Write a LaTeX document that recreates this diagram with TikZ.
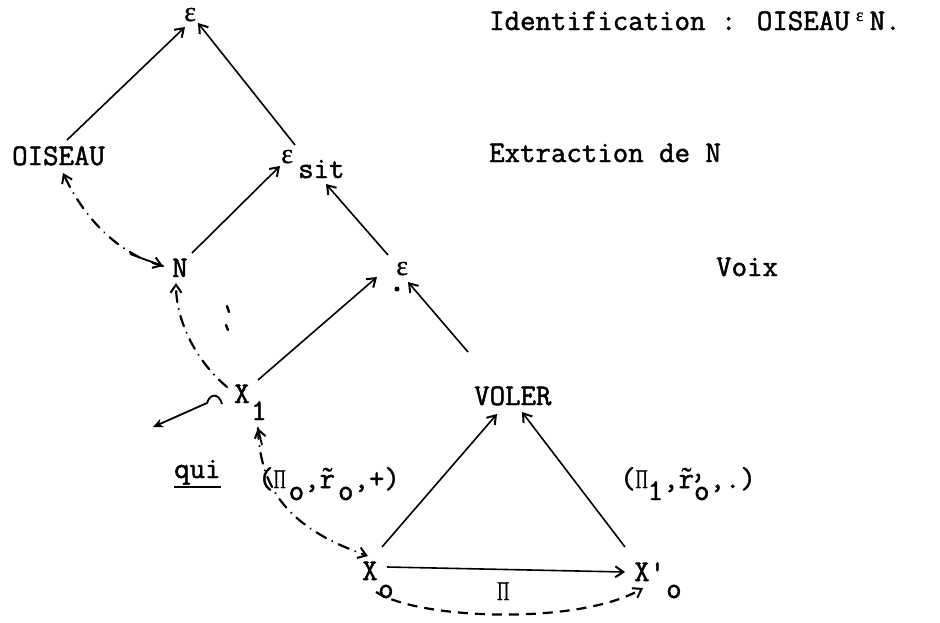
\documentclass[tikz,border=0pt]{standalone}
\usepackage{fontspec}
\usepackage{graphicx}
\newfontfamily\gk{Liberation Serif}[FakeBold=1]
\newfontfamily\tw{Latin Modern Mono}[FakeBold=1.6]
\usetikzlibrary{arrows.meta,calc}
\newcommand\eps{{\gk\fontsize{28}{30}\selectfont ε}}
\newcommand\smeps{{\gk\fontsize{18}{20}\selectfont ε}}
\newcommand\PI{\scalebox{0.62}[1]{\gk\fontsize{27}{30}\selectfont Π}}
\newcommand\lo[1]{\raisebox{-12pt}{#1}}
\newcommand\rt{\rlap{\makebox[15.75pt]{\gk ˜}}r}
\tikzset{
  lbl/.style={inner sep=0pt, anchor=base west},
  ln/.style={line width=1.6pt},
  tip/.style={-{Straight Barb[length=8pt,width=11pt,line width=2pt]}},
  arr/.style={ln, tip},
  dd/.style={line width=2.2pt, line cap=round, dash pattern=on 11pt off 7pt on 0.1pt off 7pt},
  ddash/.style={line width=2.2pt, dash pattern=on 10pt off 7pt}
}
\begin{document}
\begin{tikzpicture}[x=1pt,y=-1pt, font=\fontsize{30}{36}\selectfont\tw]
\useasboundingbox (0,0) rectangle (940,622);
% nodes
\node[lbl] (etop) at (184,21) {\eps};
\node[lbl] (oiseau) at (12,165) {OISEAU};
\node[lbl] (esit) at (281,163) {\eps};
\node[lbl] (sit) at (298,178) {sit};
\node[lbl] (N) at (172,277) {N};
\node[lbl] (emid) at (396,275) {\eps};
\node[lbl] (X1) at (234,403) {X};
\node[lbl] (X1s) at (251,420) {1};
\node[lbl] (voler) at (474,405) {VOLER};
\node[lbl] (Xo) at (362,580) {X};
\node[lbl] (Xos) at (378,598) {o};
\node[lbl] (Xp) at (634,581) {X'};
\node[lbl] (Xps) at (666,598) {o};
\node[lbl] (pi) at (497,600) {\PI};
\node[lbl] (lab1) at (258,488) {(\PI\kern3pt\lo{o},\rt\kern3pt\lo{o},+)};
\node[lbl] (lab2) at (620,488) {(\PI\lo{1},\rt\rlap{\kern-4pt\raisebox{-4pt}{’}}\lo{o},.)};
\node[lbl] (qui) at (174,478) {qui};
\node[lbl] (ident) at (489,30) {Identification : OISEAU\makebox[20pt]{\raisebox{9pt}{\smeps}}N.};
\node[lbl] (extr) at (489,162) {Extraction de N};
\node[lbl] (voix) at (716,276) {Voix};
% underline of qui
\draw[line width=1.8pt] ($(qui.base west)+(0,9)$) -- ($(qui.base east)+(0,9)$);
% solid connectors
\draw[arr] ($(oiseau.base west)+(55,-25)$) -- ($(etop.base west)+(1,6)$);
\draw[arr] ($(esit.base west)+(14,-18)$) -- ($(etop.base west)+(14,2)$);
\draw[arr] ($(N.base west)+(20,-24)$) -- ($(esit.base west)+(-1,3)$);
\draw[arr] ($(emid.base west)+(-8,-20)$) -- ($(sit.base west)+(28,6)$);
\draw[arr] ($(X1.base west)+(24,-23)$) -- ($(emid.base west)+(-19,2)$);
\draw[arr] ($(voler.base west)+(-6,-53)$) -- ($(emid.base west)+(12,7)$);
\draw[arr] ($(Xo.base west)+(20,-33)$) -- ($(voler.base west)+(23,9)$);
\draw[arr] ($(Xp.base west)+(-9,-34)$) -- ($(voler.base west)+(48,7)$);
\draw[arr] ($(Xo.base west)+(25,-13)$) -- ($(Xp.base west)+(-9,-9)$);
% dash-dot connectors
\draw[dd, tip] ($(N.base west)+(-9,-11)$) .. controls (120,255) and (85,220) .. ($(oiseau.base west)+(51,8)$);
\draw[line width=1.8pt, tip] (130,254) -- ($(N.base west)+(-9,-11)$);
\draw[dd, tip] ($(X1.base west)+(-7,-16)$) .. controls (195,360) and (176,320) .. ($(N.base west)+(4,6)$);
\draw[dd, tip] ($(X1.base west)+(24,25)$) .. controls (260,495) and (295,530) .. ($(Xo.base west)+(6,-24)$);
\draw[line width=1.8pt, tip] (262,445) -- ($(X1.base west)+(24,25)$);
% dashed bottom
\draw[ddash, tip] ($(Xos.base west)+(-2,-6)$) .. controls (420,620) and (580,625) .. ($(Xp.base west)+(9,7)$);
% qui arrow with hook
\draw[line width=1.8pt, -{Stealth[length=10pt,width=9pt]}] (222,404) .. controls (219,393) and (210,393) .. (207,403) -- ($(qui.base west)+(-21,-51)$);
% stray marks
\fill (397,289) circle (2.5pt);
\draw[line width=2.4pt, line cap=round] (227,306) -- (229,312);
\draw[line width=2.4pt, line cap=round] (226,325) -- (228,330);
\end{tikzpicture}
\end{document}
